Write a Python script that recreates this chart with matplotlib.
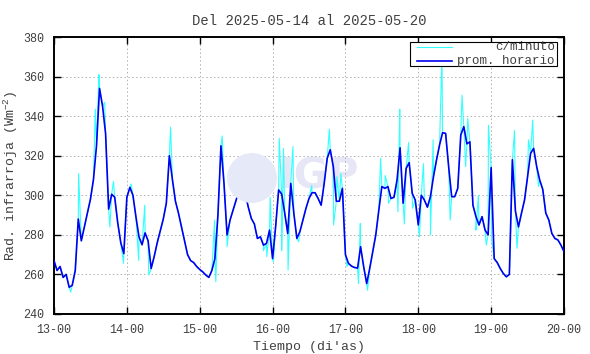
import matplotlib
matplotlib.use("Agg")
import matplotlib.pyplot as plt
from matplotlib.patches import Rectangle, Ellipse
import numpy as np

# promedio horario, un valor por hora (dias 13 a 19) + cierre 20-00
day13 = [267, 262, 264, 258.5, 260, 253.5, 254.5, 262, 288, 277, 284, 291,
         298, 308, 325, 354, 345, 331, 293, 300.5, 299, 286, 276, 270.5]
day14 = [299, 304, 300, 289, 279, 275, 281, 277, 263, 269, 276, 282,
         288, 296, 320, 308, 297, 291, 284, 277, 270, 267, 266, 264]
day15 = [262.5, 261.3, 259.7, 258.5, 262, 268, 290, 325, 306, 280, 287.5, 292.5,
         297.6, 302.7, 308, 301, 294, 288.3, 285.5, 278.2, 279, 274.8, 275.7, 282.4]
day16 = [268, 284, 302.7, 300.6, 291, 280.7, 306, 291, 278.2, 281.6, 287.5, 293.4,
         298.4, 301.3, 301.3, 298.4, 295, 306, 318.7, 323, 314.5, 297, 297, 303.5]
day17 = [270, 265.6, 264.2, 263.5, 263.2, 274, 264, 255.4, 263, 271.5, 280, 292.5,
         304.4, 303.5, 304.4, 298.4, 299, 307.7, 324, 296, 313.6, 316.5, 301, 297.6]
day18 = [285, 300, 297.6, 294, 299.3, 309.4, 317.8, 325.4, 331.6, 331.3, 314.5, 299.3,
         299.3, 303.5, 330.5, 334.7, 326, 327, 295, 289.2, 285, 289.2, 282.4, 280]
day19 = [314, 268, 266, 263, 260.5, 258.8, 260, 318, 292, 284, 291, 297.6,
         309.4, 321.2, 323.7, 314.5, 307.7, 303, 291, 287.5, 280.7, 278.2, 277.4, 274.8]
end_value = [271.5]

# picos de la serie por minuto: (hora desde 13-00, valor)
spike_hours = [5.5, 8.1, 13.6, 14.8, 16.7, 18.4, 19.6, 22.9,
               25.4, 27.9, 29.9, 31.2, 38.4,
               52.9, 53.3, 55.4, 57.0, 62.8, 69.0, 70.1, 71.2,
               72.3, 74.2, 75.0, 75.6, 77.1, 78.7, 80.6, 84.9, 90.7, 92.1, 93.2, 94.5,
               96.5, 100.3, 100.9, 103.3, 107.6, 109.1, 110.2,
               113.3, 113.9, 115.4, 116.8, 118.1,
               120.4, 121.7, 124.0, 124.9, 127.8, 130.5, 134.4, 135.6, 136.3,
               139.0, 139.8, 142.4, 143.1,
               144.2, 151.7, 152.5, 156.3, 157.7, 159.6]
spike_values = [251, 311, 343.5, 361, 347, 284, 307, 265.6,
                305.7, 267, 295, 259.7, 334.4,
                287.5, 256.3, 330, 274, 317.8, 272, 269, 299,
                266.4, 328.8, 272, 323.7, 262.2, 324.6, 276.5, 305, 333.4, 285, 309.4, 311,
                264, 255.4, 285.8, 252, 318.7, 310, 296,
                291.7, 343.5, 285.5, 326.6, 293.4,
                279, 316, 280, 328, 372, 287.5, 350.6, 314.5, 338.8,
                282.4, 300, 274.8, 335.4,
                277.4, 332.8, 273.2, 328, 338, 304.4]

x_labels = ["13-00", "14-00", "15-00", "16-00", "17-00", "18-00", "19-00", "20-00"]

hourly = np.array(day13 + day14 + day15 + day16 + day17 + day18 + day19 + end_value)
hours = np.arange(len(hourly))

# serie por minuto: promedios + picos, ordenados en el tiempo
m_h = np.concatenate([hours, spike_hours])
m_v = np.concatenate([hourly, spike_values])
order = np.argsort(m_h, kind="stable")
m_h, m_v = m_h[order], m_v[order]

plt.rcParams["font.family"] = ["Liberation Mono", "DejaVu Sans Mono"]
plt.rcParams["mathtext.default"] = "regular"
txt = "#404040"

fig = plt.figure(figsize=(5.9, 3.54), dpi=100)
ax = fig.add_axes([54 / 590, 1 - 314 / 354, 510 / 590, 277 / 354])

# marca de agua
fig.patches.append(Ellipse((252 / 590, 1 - 178 / 354), 50 / 590, 50 / 354,
                           transform=fig.transFigure, facecolor="#e6e9f8",
                           edgecolor="none", zorder=0.5))
ax.text((318 - 54) / 510, 1 - (176 - 37) / 277, "IGP", transform=ax.transAxes,
        ha="center", va="center", fontsize=30, fontweight="bold", color="#e6e6f7",
        family="DejaVu Sans", zorder=0.6)
ax.patch.set_alpha(0)

ax.plot(m_h, m_v, color="#33ffff", lw=0.8, zorder=2)
ax.plot(hours, hourly, color="#0000f0", lw=1.2, zorder=3)

ax.set_xlim(0, 168)
ax.set_ylim(240, 380)
ax.set_xticks(np.arange(0, 169, 24))
ax.set_xticklabels(x_labels)
ax.set_yticks(np.arange(240, 381, 20))
ax.grid(True, color="#b0b0b0", linestyle=(0, (1.5, 2.5)), linewidth=0.7)
ax.tick_params(direction="in", length=5, width=1, top=True, right=True,
               labelsize=8.5, labelcolor=txt, pad=7)
for s in ax.spines.values():
    s.set_linewidth(1.4)

ax.set_title("Del 2025-05-14 al 2025-05-20", fontsize=10, color=txt, pad=9)
ax.set_xlabel("Tiempo (di'as)", fontsize=9.5, color=txt, labelpad=4)
ax.set_ylabel("Rad. infrarroja (Wm$^{-2}$)", fontsize=9.5, color=txt, labelpad=2)

# leyenda
x0, x1 = (410 - 54) / 510, (556.7 - 54) / 510
y0, y1 = 1 - (66 - 37) / 277, 1 - (41.7 - 37) / 277
ax.add_patch(Rectangle((x0, y0), x1 - x0, y1 - y0, transform=ax.transAxes,
                       facecolor="white", edgecolor="black", lw=0.8, zorder=5))
lx = [(417 - 54) / 510, (452 - 54) / 510]
for yy, col, lw, lab in [(1 - (47 - 37) / 277, "#33ffff", 0.8, "c/minuto"),
                         (1 - (60.7 - 37) / 277, "#0000f0", 1.2, "prom. horario")]:
    ax.plot(lx, [yy, yy], transform=ax.transAxes, color=col, lw=lw, zorder=6,
            clip_on=False)
    ax.text(0.982, yy, lab, transform=ax.transAxes, ha="right", va="center",
            fontsize=9, color=txt, zorder=6)

fig.savefig("out.png", dpi=100)
